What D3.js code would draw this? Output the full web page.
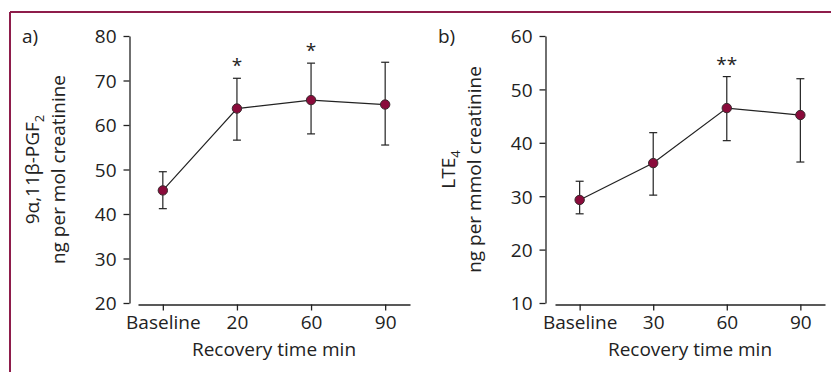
<!DOCTYPE html>
<html>
<head>
<meta charset="utf-8">
<script src="https://cdn.jsdelivr.net/npm/d3@7"></script>
<style>
  body { margin: 0; background: #fff; }
  text { font-family: "Open Sans", sans-serif; fill: #222; }
</style>
</head>
<body>
<div id="chart"></div>
<script>
// panel a data
var catsA = ["Baseline", "20", "60", "90"];
var meanA = [45.3, 63.7, 65.6, 64.6];
var lowA = [41.2, 56.6, 58.0, 55.5];
var highA = [49.5, 70.5, 73.9, 74.1];
var starsA = ["", "*", "*", ""];
var ticksA = [20, 30, 40, 50, 60, 70, 80];

// panel b data
var catsB = ["Baseline", "30", "60", "90"];
var meanB = [29.3, 36.2, 46.5, 45.2];
var lowB = [26.7, 30.2, 40.4, 36.4];
var highB = [32.8, 41.9, 52.4, 52.0];
var starsB = ["", "", "**", ""];
var ticksB = [10, 20, 30, 40, 50, 60];

var fs = "19px";

var svg = d3.select("#chart")
  .append("svg")
  .attr("width", 831)
  .attr("height", 372);

// maroon frame (top and left)
var frame = "#8e1d4b";
svg.append("line").attr("x1", 10).attr("x2", 831).attr("y1", 12).attr("y2", 12)
  .attr("stroke", frame).attr("stroke-width", 2);
svg.append("line").attr("x1", 10).attr("x2", 10).attr("y1", 12).attr("y2", 372)
  .attr("stroke", frame).attr("stroke-width", 2);

function panel(opt) {
  var x = d3.scalePoint().domain(opt.cats).range(opt.xr).padding(0.335);
  var y = d3.scaleLinear().domain([opt.ticks[0], opt.ticks[opt.ticks.length - 1]]).range(opt.yr);
  var g = svg.append("g");

  // y axis
  var ya = g.append("g")
    .attr("transform", "translate(" + opt.ax + ",0)")
    .call(d3.axisLeft(y).tickValues(opt.ticks).tickSize(6).tickSizeOuter(0).tickPadding(7));
  // x axis
  var xa = g.append("g")
    .attr("transform", "translate(0," + opt.ay + ")")
    .call(d3.axisBottom(x).tickSize(6).tickSizeOuter(0).tickPadding(5));
  g.selectAll(".domain, .tick line").attr("stroke", "#222").attr("stroke-width", 1.3);
  g.selectAll(".tick text").style("font-size", fs).attr("fill", "#222");
  ya.selectAll(".tick text").attr("dy", "0.36em");

  // axis titles
  g.append("text")
    .attr("x", (opt.xr[0] + opt.xr[1]) / 2)
    .attr("y", opt.ay + 51)
    .attr("text-anchor", "middle")
    .style("font-size", fs)
    .text("Recovery time min");

  var tt = g.append("text")
    .attr("transform", "translate(" + (opt.ax - 91) + "," + ((opt.yr[0] + opt.yr[1]) / 2) + ") rotate(-90)")
    .attr("text-anchor", "middle")
    .style("font-size", fs);
  tt.append("tspan").text(opt.title1);
  tt.append("tspan").text(opt.sub).style("font-size", "13px").attr("dy", 5);
  g.append("text")
    .attr("transform", "translate(" + (opt.ax - 65) + "," + ((opt.yr[0] + opt.yr[1]) / 2) + ") rotate(-90)")
    .attr("text-anchor", "middle")
    .style("font-size", fs)
    .text(opt.title2);

  g.append("text")
    .attr("x", opt.lx)
    .attr("y", 43)
    .style("font-size", fs)
    .text(opt.label);

  var idx = d3.range(opt.cats.length);

  // line
  var line = d3.line().x(function(i) { return x(opt.cats[i]); }).y(function(i) { return y(opt.mean[i]); });
  g.append("path").datum(idx).attr("d", line)
    .attr("fill", "none").attr("stroke", "#222").attr("stroke-width", 1.2);

  // error bars
  var eb = g.selectAll(".err").data(idx).enter().append("g")
    .attr("stroke", "#222").attr("stroke-width", 1.2);
  eb.append("line")
    .attr("x1", function(i) { return x(opt.cats[i]); })
    .attr("x2", function(i) { return x(opt.cats[i]); })
    .attr("y1", function(i) { return y(opt.low[i]); })
    .attr("y2", function(i) { return y(opt.high[i]); });
  eb.append("line")
    .attr("x1", function(i) { return x(opt.cats[i]) - 4; })
    .attr("x2", function(i) { return x(opt.cats[i]) + 4; })
    .attr("y1", function(i) { return y(opt.low[i]); })
    .attr("y2", function(i) { return y(opt.low[i]); });
  eb.append("line")
    .attr("x1", function(i) { return x(opt.cats[i]) - 4; })
    .attr("x2", function(i) { return x(opt.cats[i]) + 4; })
    .attr("y1", function(i) { return y(opt.high[i]); })
    .attr("y2", function(i) { return y(opt.high[i]); });

  // points
  g.selectAll(".pt").data(idx).enter().append("circle")
    .attr("cx", function(i) { return x(opt.cats[i]); })
    .attr("cy", function(i) { return y(opt.mean[i]); })
    .attr("r", 4.7)
    .attr("fill", "#8a0b3b")
    .attr("stroke", "#3a2a2e")
    .attr("stroke-width", 1);

  // significance stars
  g.selectAll(".star").data(idx).enter().append("text")
    .attr("x", function(i) { return x(opt.cats[i]); })
    .attr("y", function(i) { return y(opt.high[i]) - 6; })
    .attr("text-anchor", "middle")
    .style("font-size", fs)
    .text(function(i) { return opt.stars[i]; });
}

panel({
  cats: catsA, mean: meanA, low: lowA, high: highA, stars: starsA, ticks: ticksA,
  xr: [138, 410], yr: [303, 36], ax: 129.5, ay: 304.5, lx: 22,
  label: "a)", title1: "9\u03b1,11\u03b2-PGF", sub: "2", title2: "ng per mol creatinine"
});

panel({
  cats: catsB, mean: meanB, low: lowB, high: highB, stars: starsB, ticks: ticksB,
  xr: [555, 825], yr: [303, 36], ax: 545.5, ay: 304.5, lx: 438,
  label: "b)", title1: "LTE", sub: "4", title2: "ng per mmol creatinine"
});
</script>
</body>
</html>
